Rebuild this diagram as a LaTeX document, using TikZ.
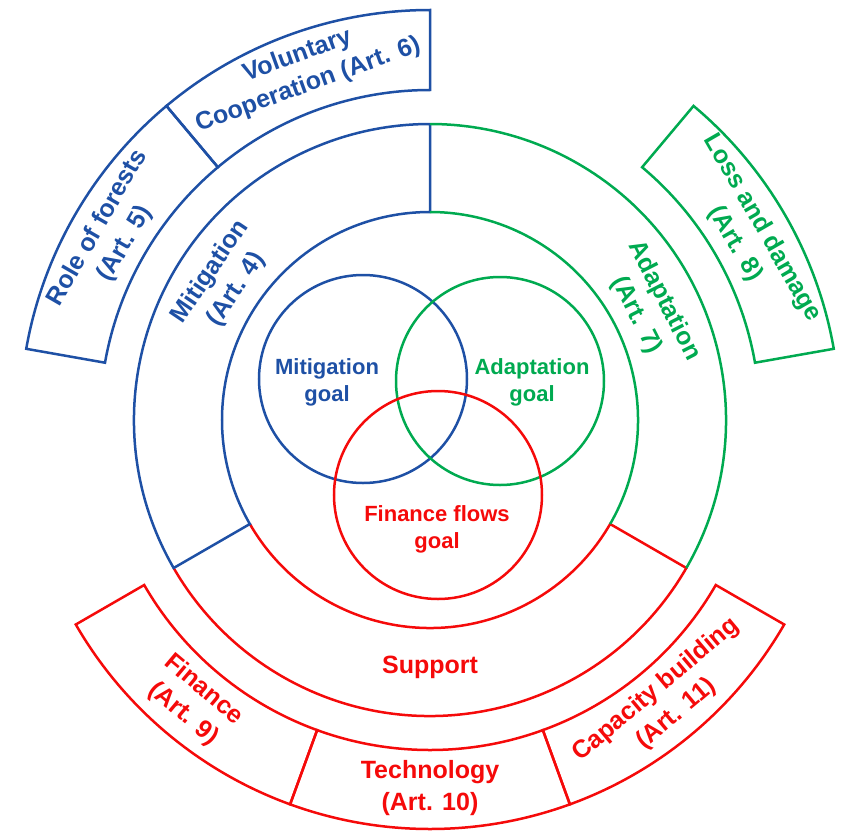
\documentclass[tikz,border=0pt]{standalone}
\usepackage{fontspec}
\setmainfont{Liberation Sans}

\definecolor{mitblue}{RGB}{30,80,165}
\definecolor{adgreen}{RGB}{0,170,80}
\definecolor{supred}{RGB}{245,10,10}

\tikzset{
  band/.style={line width=2.5pt},
  lab/.style={font=\bfseries\fontsize{25}{31.5}\selectfont, align=center, inner sep=0pt},
  goal/.style={font=\bfseries\fontsize{22}{27}\selectfont, align=center, inner sep=0pt}
}

\begin{document}
\begin{tikzpicture}[x=1pt,y=1pt]
\useasboundingbox (-430,-411) rectangle (426,420);

% middle ring: support, mitigation, adaptation
\draw [band, supred] (210:208) arc (210:330:208) -- (330:296) arc (330:210:296);
\draw [band, mitblue] (90:296) -- (90:208) arc (90:210:208) -- (210:296) arc (210:90:296);
\draw [band, adgreen] (-30:208) arc (-30:90:208);
\draw [band, adgreen] (-30:296) arc (-30:90:296);

% outer bands
\draw [band, mitblue] (90:330) arc (90:130:330) -- (130:410) arc (130:90:410) -- cycle;
\draw [band, mitblue] (130:330) arc (130:170:330) -- (170:410) arc (170:130:410) -- cycle;
\draw [band, adgreen] (10:330) arc (10:50:330) -- (50:410) arc (50:10:410) -- cycle;
\foreach \a/\b in {210/250,250/290,290/330}
  \draw [band, supred] (\a:330) arc (\a:\b:330) -- (\b:409) arc (\b:\a:409) -- cycle;

% goals
\draw [band, mitblue] (-67,41) circle (104);
\draw [band, adgreen] (70,39) circle (104);
\draw [band, supred] (8,-75) circle (104);

\node [goal, mitblue] (mitgoal) at (-103,38) {Mitigation\\goal};
\node [goal, adgreen] (adgoal) at (102,38) {Adaptation\\goal};
\node [goal, supred] (fingoal) at (7,-109) {Finance flows\\goal};

\node [lab, mitblue, rotate=56] (mitart) at (146:249) {Mitigation\\(Art. 4)};
\node [lab, adgreen, rotate=-63] (adart) at (27:247) {Adaptation\\(Art. 7)};
\node [lab, supred] (support) at (270:247) {Support};

\node [lab, mitblue, rotate=20] (volcoop) at (110:372) {Voluntary\\Cooperation (Art. 6)};
\node [lab, mitblue, rotate=60] (forests) at (150:368) {Role of forests\\(Art. 5)};
\node [lab, adgreen, rotate=-60] (lossdam) at (30:368) {Loss and damage\\(Art. 8)};
\node [lab, supred, rotate=-40] (finance) at (230:368) {Finance\\(Art. 9)};
\node [lab, supred] (techno) at (270:368) {Technology\\(Art. 10)};
\node [lab, supred, rotate=40] (capacity) at (310:368) {Capacity building\\(Art. 11)};

\end{tikzpicture}
\end{document}
